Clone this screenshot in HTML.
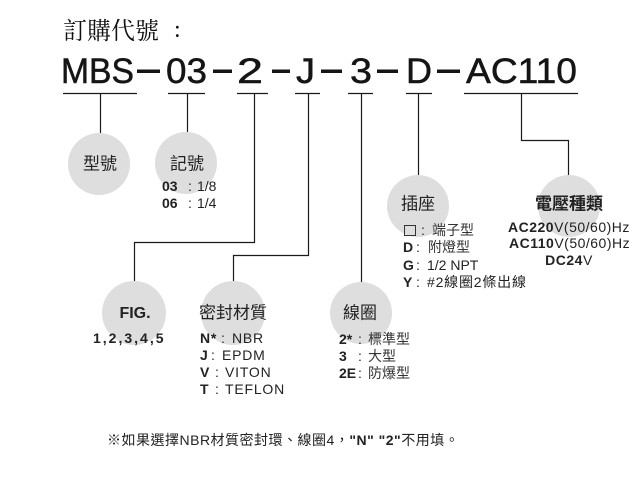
<!DOCTYPE html>
<html>
<head>
<meta charset="utf-8">
<style>
html,body{margin:0;padding:0;background:#fff;}
svg{display:block;}
</style>
</head>
<body>
<svg width="632" height="489" viewBox="0 0 632 489" xmlns="http://www.w3.org/2000/svg">
<rect width="632" height="489" fill="#fff"/>

<!-- Title -->
<text x="63" y="39" font-family="'Noto Serif CJK SC',serif" font-size="24" fill="#111">訂購代號</text>
<text x="174" y="37" font-family="'Liberation Serif',serif" font-size="24" fill="#111">:</text>

<!-- Code line -->
<g font-family="'Liberation Sans',sans-serif" font-size="35" fill="#151515" stroke="#151515" stroke-width="0.5">
  <text x="61" y="83" textLength="73" lengthAdjust="spacingAndGlyphs">MBS</text>
  <text x="166" y="83" textLength="41" lengthAdjust="spacingAndGlyphs">03</text>
  <text x="237" y="83" textLength="26" lengthAdjust="spacingAndGlyphs">2</text>
  <text x="296" y="83" textLength="19" lengthAdjust="spacingAndGlyphs">J</text>
  <text x="350" y="83" textLength="22" lengthAdjust="spacingAndGlyphs">3</text>
  <text x="406" y="83" textLength="26" lengthAdjust="spacingAndGlyphs">D</text>
  <text x="466" y="83" textLength="111" lengthAdjust="spacingAndGlyphs">AC110</text>
</g>
<g fill="#151515">
  <rect x="137" y="69.5" width="23" height="3.5"/>
  <rect x="213" y="69.5" width="19" height="3.5"/>
  <rect x="272" y="69.5" width="18" height="3.5"/>
  <rect x="321" y="69.5" width="21" height="3.5"/>
  <rect x="377" y="69.5" width="21" height="3.5"/>
  <rect x="437" y="69.5" width="23" height="3.5"/>
</g>

<!-- Circles -->
<g fill="#dedede">
  <circle cx="99" cy="164" r="31"/>
  <circle cx="186" cy="163" r="31"/>
  <circle cx="418" cy="206" r="31"/>
  <circle cx="569" cy="206" r="31"/>
  <circle cx="134" cy="313" r="32"/>
  <circle cx="233" cy="313" r="32"/>
  <circle cx="361" cy="313" r="31"/>
</g>

<!-- Lines -->
<g stroke="#1a1a1a" stroke-width="1.2" fill="none">
  <path d="M63 93.5H137"/>
  <path d="M168 93.5H205"/>
  <path d="M237 93.5H268"/>
  <path d="M295 93.5H320"/>
  <path d="M348 93.5H373"/>
  <path d="M406 93.5H432"/>
  <path d="M464 93.5H578"/>
  <path d="M100.5 93.5V133"/>
  <path d="M187.5 93.5V132"/>
  <path d="M254.5 93.5V242.5H134.5V281"/>
  <path d="M308.5 93.5V255.5H233.5V281"/>
  <path d="M361.5 93.5V282"/>
  <path d="M418.5 93.5V175"/>
  <path d="M521.5 93.5V140.5H568.5V175"/>
</g>

<!-- Circle titles -->
<g font-family="'Liberation Sans','Noto Sans CJK TC',sans-serif" font-size="17" fill="#222" text-anchor="middle">
  <text x="100" y="169.5">型號</text>
  <text x="187" y="169.5">記號</text>
  <text x="418" y="209.5">插座</text>
  <text x="569" y="209.5" font-weight="bold">電壓種類</text>
  <text x="233" y="318.5">密封材質</text>
  <text x="360" y="318.5">線圈</text>
</g>
<text x="135" y="318" text-anchor="middle" font-family="'Liberation Sans',sans-serif" font-size="16" font-weight="bold" fill="#222">FIG.</text>

<!-- 記號 details -->
<g font-family="'Liberation Sans','Noto Sans CJK TC',sans-serif" font-size="14" fill="#222">
  <text x="162" y="191" font-weight="bold">03</text>
  <text x="188" y="191">:</text>
  <text x="197" y="191">1/8</text>
  <text x="162" y="208" font-weight="bold">06</text>
  <text x="188" y="208">:</text>
  <text x="197" y="208">1/4</text>
</g>

<!-- 插座 details -->
<rect x="404.5" y="225.5" width="11" height="10" fill="none" stroke="#333" stroke-width="1"/>
<g font-family="'Liberation Sans','Noto Sans CJK TC',sans-serif" font-size="14" fill="#222">
  <text x="421" y="235">:</text>
  <text x="432" y="235" fill="#333">端子型</text>
  <text x="403" y="252" font-weight="bold">D</text>
  <text x="416" y="252">:</text>
  <text x="428" y="252" fill="#333">附燈型</text>
  <text x="403" y="270" font-weight="bold">G</text>
  <text x="416" y="270">:</text>
  <text x="427" y="270">1/2 NPT</text>
  <text x="403" y="287" font-weight="bold">Y</text>
  <text x="416" y="287">:</text>
  <text x="427" y="287" letter-spacing="0.8">#2線圈2條出線</text>
</g>

<!-- 電壓 details -->
<g font-family="'Liberation Sans',sans-serif" font-size="14" fill="#222" letter-spacing="0.5">
  <text x="508" y="232"><tspan font-weight="bold">AC220</tspan>V(50/60)Hz</text>
  <text x="509" y="248"><tspan font-weight="bold">AC110</tspan>V(50/60)Hz</text>
  <text x="569" y="265" text-anchor="middle"><tspan font-weight="bold">DC24</tspan>V</text>
</g>

<!-- FIG details -->
<text x="93" y="343" font-family="'Liberation Sans',sans-serif" font-size="14" font-weight="bold" fill="#222" letter-spacing="2">1,2,3,4,5</text>

<!-- 密封材質 details -->
<g font-family="'Liberation Sans',sans-serif" font-size="14" fill="#222" letter-spacing="0.8">
  <text x="200" y="343" font-weight="bold">N*</text>
  <text x="221" y="343">:</text>
  <text x="232" y="343">NBR</text>
  <text x="200" y="360" font-weight="bold">J</text>
  <text x="211" y="360">:</text>
  <text x="222" y="360">EPDM</text>
  <text x="200" y="377" font-weight="bold">V</text>
  <text x="215" y="377">:</text>
  <text x="225" y="377">VITON</text>
  <text x="200" y="394" font-weight="bold">T</text>
  <text x="215" y="394">:</text>
  <text x="225" y="394">TEFLON</text>
</g>

<!-- 線圈 details -->
<g font-family="'Liberation Sans','Noto Sans CJK TC',sans-serif" font-size="14" fill="#222">
  <text x="339" y="344" font-weight="bold">2*</text>
  <text x="358" y="344">:</text>
  <text x="368" y="344" fill="#333">標準型</text>
  <text x="339" y="361" font-weight="bold">3</text>
  <text x="358" y="361">:</text>
  <text x="368" y="361" fill="#333">大型</text>
  <text x="339" y="378" font-weight="bold">2E</text>
  <text x="358" y="378">:</text>
  <text x="368" y="378" fill="#333">防爆型</text>
</g>

<!-- Footnote -->
<text x="107" y="445" font-family="'Liberation Sans','Noto Sans CJK TC',sans-serif" font-size="14" fill="#222" letter-spacing="0.5">※如果選擇NBR材質密封環、線圈4，<tspan font-weight="bold">"N" "2"</tspan>不用填。</text>
</svg>
</body>
</html>
